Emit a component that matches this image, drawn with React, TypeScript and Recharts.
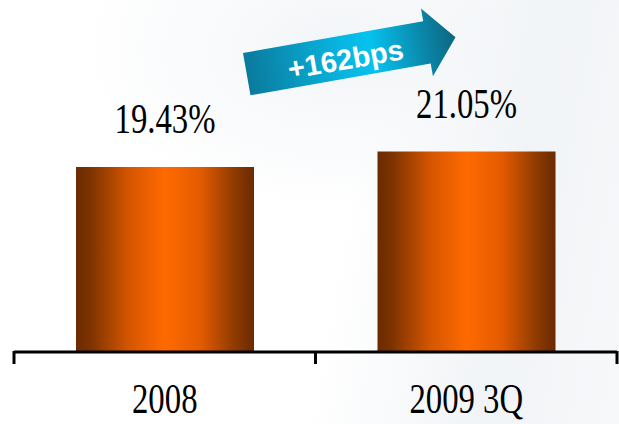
import { BarChart, Bar, XAxis, YAxis, LabelList } from 'recharts'

const categories = ['2008', '2009 3Q']
const ratios = [19.43, 21.05]
const valueLabels = ['19.43%', '21.05%']
const arrowText = '+162bps'

const data = categories.map((name, i) => ({ name, ratio: ratios[i], label: valueLabels[i] }))

const SERIF = '"Liberation Serif", "Times New Roman", serif'
const SANS = '"Liberation Sans", Arial, sans-serif'

function CategoryTick(props: any) {
  const { x, y, payload, index } = props
  const half = payload?.offset ?? 150.75
  const isLast = index === categories.length - 1
  return (
    <g>
      <line x1={x - half} y1={y - 1} x2={x - half} y2={y + 12} stroke="#000" strokeWidth={3} />
      {isLast && (
        <line x1={x + half} y1={y - 1} x2={x + half} y2={y + 12} stroke="#000" strokeWidth={3} />
      )}
      <text
        transform={`translate(${x},${y + 61}) scale(0.78,1)`}
        textAnchor="middle"
        fontFamily={SERIF}
        fontSize={42}
        fill="#000"
      >
        {payload.value}
      </text>
    </g>
  )
}

function ValueLabel(props: any) {
  const { x, y, width, value } = props
  return (
    <text
      transform={`translate(${x + width / 2},${y - 34}) scale(0.78,1)`}
      textAnchor="middle"
      fontFamily={SERIF}
      fontSize={42}
      fill="#000"
    >
      {value}
    </text>
  )
}

function GrowthArrow() {
  return (
    <svg
      width={619}
      height={424}
      style={{ position: 'absolute', left: 0, top: 0, pointerEvents: 'none' }}
    >
      <defs>
        <linearGradient id="arrowGrad" x1="0" y1="0" x2="1" y2="0">
          <stop offset="0%" stopColor="#0a7a9c" />
          <stop offset="45%" stopColor="#08b4e0" />
          <stop offset="60%" stopColor="#06c2ee" />
          <stop offset="85%" stopColor="#0a86a8" />
          <stop offset="100%" stopColor="#0b6680" />
        </linearGradient>
      </defs>
      <g transform="translate(243,53) rotate(-10)">
        <polygon
          points="0,0 183,0 183,-13 212,21.5 183,56 183,43 0,43"
          fill="url(#arrowGrad)"
        />
        <text
          x={100}
          y={34}
          textAnchor="middle"
          fontFamily={SANS}
          fontWeight="bold"
          fontSize={29}
          fill="#fff"
        >
          {arrowText}
        </text>
      </g>
    </svg>
  )
}

export default function App() {
  return (
    <div
      style={{
        position: 'fixed',
        left: 0,
        top: 0,
        width: 619,
        height: 424,
        background:
          'radial-gradient(ellipse 260px 160px at 340px 50px, #f2f5f8 0%, rgba(255,255,255,0) 100%), linear-gradient(100deg, #ffffff 55%, #f1f4f7 80%, #f7f8fa 100%)',
      }}
    >
      <BarChart
        width={619}
        height={424}
        data={data}
        margin={{ top: 114, right: 2, bottom: 0, left: 14 }}
      >
        <defs>
          <linearGradient id="barGrad" x1="0" y1="0" x2="1" y2="0">
            <stop offset="0%" stopColor="#6b2a00" />
            <stop offset="8%" stopColor="#7c3300" />
            <stop offset="30%" stopColor="#d65600" />
            <stop offset="50%" stopColor="#ff6a00" />
            <stop offset="70%" stopColor="#e35b00" />
            <stop offset="90%" stopColor="#8a3900" />
            <stop offset="100%" stopColor="#6b2a00" />
          </linearGradient>
        </defs>
        <YAxis hide domain={[0, 25]} />
        <XAxis
          dataKey="name"
          height={72}
          tickSize={0}
          tickMargin={0}
          tickLine={false}
          axisLine={{ stroke: '#000', strokeWidth: 3 }}
          tick={<CategoryTick />}
          interval={0}
        />
        <Bar dataKey="ratio" fill="url(#barGrad)" barSize={178} isAnimationActive={false}>
          <LabelList dataKey="label" content={<ValueLabel />} />
        </Bar>
      </BarChart>
      <GrowthArrow />
    </div>
  )
}
